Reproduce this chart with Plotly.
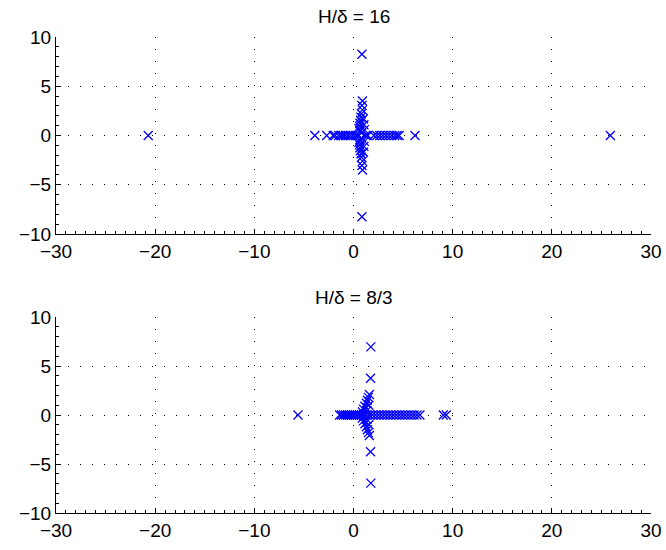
import plotly.graph_objects as go
from plotly.subplots import make_subplots

# Top panel: H/delta = 16  (eigenvalues, real / imaginary parts)
top_col_re = [0.85, 0.85, 0.9, 0.9, 0.85, 0.85, 0.9, 0.9, 0.8, 0.8, 0.75, 0.75,
              0.7, 0.7, 0.65, 0.65, 0.6, 0.6, 0.55, 0.55, 0.65, 0.65, 0.8, 0.8,
              1.0, 1.0, 1.05, 1.05, 1.1, 1.1]
top_col_im = [8.25, -8.25, 3.5, -3.5, 3.05, -3.05, 2.6, -2.6, 2.2, -2.2, 1.85, -1.85,
              1.55, -1.55, 1.25, -1.25, 0.95, -0.95, 0.7, -0.7, 0.45, -0.45, 0.25, -0.25,
              1.7, -1.7, 1.1, -1.1, 0.6, -0.6]
top_real = [-20.7, -3.9, -2.7, -2.05, -1.85, -1.5, -1.25, -1.05, -0.8, -0.55, -0.3,
            -0.05, 0.2, 0.4, 1.25, 1.45, 2.05, 2.35, 2.65, 2.95, 3.25, 3.55, 3.85,
            4.15, 4.4, 4.6, 6.2, 25.9]

# Bottom panel: H/delta = 8/3
bot_col_re = [1.75, 1.75, 1.72, 1.72, 1.6, 1.6, 1.5, 1.5, 1.4, 1.4, 1.3, 1.3,
              1.15, 1.15, 1.0, 1.0, 0.9, 0.9, 1.55, 1.55, 1.35, 1.35]
bot_col_im = [6.95, -6.95, 3.75, -3.75, 2.1, -2.1, 1.8, -1.8, 1.5, -1.5, 1.2, -1.2,
              0.9, -0.9, 0.6, -0.6, 0.3, -0.3, 1.0, -1.0, 0.45, -0.45]
bot_real = [-5.6, -1.4, -1.2, -1.0, -0.8, -0.6, -0.4, -0.2, 0.0, 0.2, 0.4, 0.6, 0.8,
            1.0, 1.3, 1.6, 1.9, 2.2, 2.5, 2.8, 3.1, 3.4, 3.7, 4.0, 4.3, 4.6, 4.9,
            5.2, 5.5, 5.8, 6.1, 6.4, 6.7, 9.05, 9.35]

titles = ["H/δ = 16", "H/δ = 8/3"]
x_ticks = [-30, -20, -10, 0, 10, 20, 30]
y_ticks = [-10, -5, 0, 5, 10]

FONT = "Liberation Sans, Arial, sans-serif"
BLUE = "#0000ff"

fig = make_subplots(rows=2, cols=1, vertical_spacing=0.0)

marker = dict(symbol="x-thin", size=9, line=dict(width=1.3, color=BLUE), color=BLUE)

panels = [(top_col_re + top_real, top_col_im + [0.0] * len(top_real)),
          (bot_col_re + bot_real, bot_col_im + [0.0] * len(bot_real))]
for i, (xs, ys) in enumerate(panels, start=1):
    fig.add_trace(go.Scatter(x=xs, y=ys, mode="markers", marker=marker,
                             showlegend=False, hoverinfo="x+y"), row=i, col=1)

H, T, B = 550, 37, 37
ph = H - T - B
top_dom = [(513 - 234) / ph, 1.0]
bot_dom = [0.0, (513 - 317) / ph]

axis_common = dict(
    showline=True, linecolor="black", linewidth=1, mirror=False,
    ticks="inside", ticklen=5, tickcolor="black", tickwidth=1,
    showgrid=True, gridcolor="black", gridwidth=1, griddash="1px,11px",
    zeroline=False, automargin=False,
    tickfont=dict(family=FONT, size=19, color="black"),
)

for i, dom in zip([1, 2], [top_dom, bot_dom]):
    xa = "xaxis" if i == 1 else "xaxis2"
    ya = "yaxis" if i == 1 else "yaxis2"
    fig.layout[xa].update(range=[-30, 30], tickmode="array", tickvals=x_ticks,
                          minor=dict(dtick=1, ticklen=3, ticks="inside", tickcolor="black", showgrid=False),
                          **axis_common)
    fig.layout[ya].update(range=[-10, 10], tickmode="array", tickvals=y_ticks, domain=dom,
                          minor=dict(dtick=1, ticklen=3, ticks="inside", tickcolor="black", showgrid=False),
                          **axis_common)

title_px = [17, 297]
for t, py in zip(titles, title_px):
    fig.add_annotation(text=t, xref="paper", yref="paper", x=0.5, y=(513 - py) / ph,
                       xanchor="center", yanchor="middle", showarrow=False,
                       font=dict(family=FONT, size=19, color="black"))

fig.update_layout(width=666, height=550, margin=dict(l=56, r=15, t=T, b=B, autoexpand=False),
                  plot_bgcolor="white", paper_bgcolor="white")

fig.write_html("out.html")
